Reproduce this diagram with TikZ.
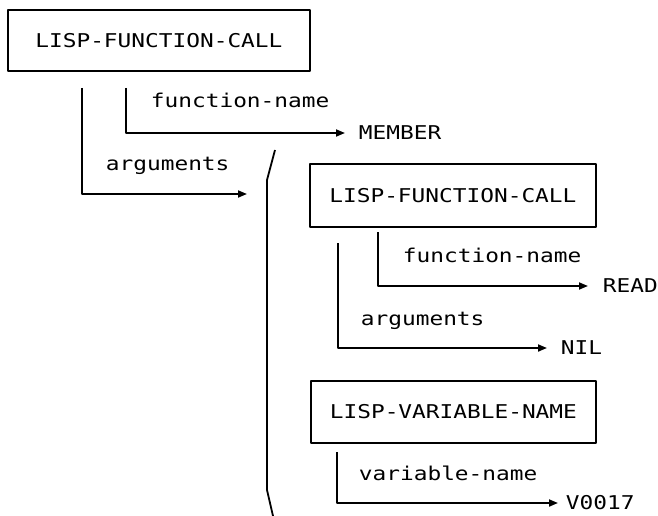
\documentclass[tikz,border=0pt]{standalone}
\usepackage{fontspec}
\newfontfamily\plotfont[FakeStretch=1.2]{DejaVu Sans Mono}
\usetikzlibrary{arrows.meta}

\begin{document}
\begin{tikzpicture}[x=1pt, y=-1pt, line width=1.8pt, line join=round,
  txt/.style={inner sep=0pt, font=\plotfont\fontsize{19}{22}\selectfont},
  frame/.style={txt, draw, anchor=north west},
  conn/.style={-{Triangle[length=9pt,width=7pt]}},
]
\useasboundingbox[fill=white] (0,0) rectangle (658,516);

% structure frames
\node[frame, minimum width=302pt, minimum height=61pt] (call1) at (7,9) {LISP-FUNCTION-CALL};
\node[frame, minimum width=286pt, minimum height=63pt] (call2) at (309,163) {LISP-FUNCTION-CALL};
\node[frame, minimum width=285pt, minimum height=62pt] (var1) at (310,380) {LISP-VARIABLE-NAME};

% slot labels
\node[txt, anchor=base west] (fn1)  at (150,108) {function-name};
\node[txt, anchor=base west] (arg1) at (105,170) {arguments};
\node[txt, anchor=base west] (fn2)  at (402,262) {function-name};
\node[txt, anchor=base west] (arg2) at (360,325) {arguments};
\node[txt, anchor=base west] (vn1)  at (358,480) {variable-name};

% slot values
\node[txt, anchor=west] (member) at (358,133) {MEMBER};
\node[txt, anchor=west] (read)   at (602,286) {READ};
\node[txt, anchor=west] (nil)    at (560,348) {NIL};
\node[txt, anchor=west] (v17)    at (565,503) {V0017};

% start points of the slot lines
\coordinate (s-fn1)  at (126,88);
\coordinate (s-arg1) at (82,88);
\coordinate (s-fn2)  at (378,232);
\coordinate (s-arg2) at (338,243);
\coordinate (s-vn1)  at (337,452);
\coordinate (e-arg1) at (247,194);

% slot lines
\draw[conn] (s-fn1)  |- ([xshift=-13pt]member.west);
\draw[conn] (s-arg1) |- (e-arg1);
\draw[conn] (s-fn2)  |- ([xshift=-14pt]read.west);
\draw[conn] (s-arg2) |- ([xshift=-13pt]nil.west);
\draw[conn] (s-vn1)  |- ([xshift=-7pt]v17.west);

% bracket grouping the argument list
\draw (275,150) -- (267,180) -- (267,490) -- (273,516);
\end{tikzpicture}
\end{document}
